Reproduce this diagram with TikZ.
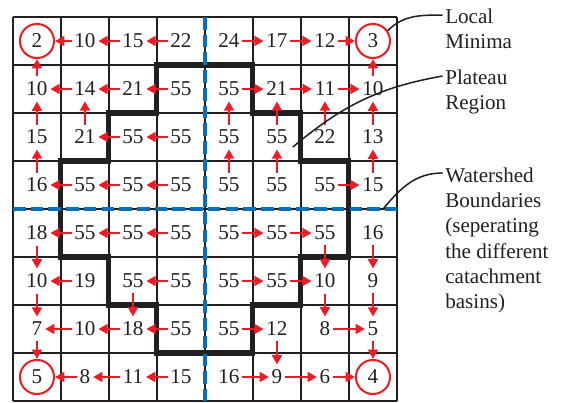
\documentclass[tikz,border=0pt]{standalone}
\usepackage{fontspec}
\setmainfont{Liberation Serif}
\usetikzlibrary{arrows.meta,positioning}
\definecolor{ink}{RGB}{35,31,32}
\definecolor{flowred}{RGB}{237,28,36}
\definecolor{shedblue}{RGB}{0,114,188}

\begin{document}
\begin{tikzpicture}[font=\fontsize{12.5}{14.9}\selectfont,text=ink,
    cellnum/.style={inner xsep=1.5pt,inner ysep=3pt},
    minring/.style={circle,draw=flowred,line width=1.2pt,minimum size=7.1mm,inner sep=0pt},
    flow/.style={flowred,line width=1.3pt,-{Triangle[length=5.5pt,width=5.8pt]}},
    plateau/.style={ink,line width=3pt},
    shed/.style={shedblue,line width=2.4pt,dash pattern=on 7.5pt off 3pt},
    leader/.style={ink,line width=0.9pt},
    tag/.style={anchor=north west,inner sep=0pt,align=left}]
  \useasboundingbox (-0.27,-8.04) rectangle (11.48,0.354);
  \draw[ink,line width=1.2pt] (0,-8) grid (8,0);
  % plateau region outline
  \draw[plateau] (3,-1) -- (5,-1) -- (5,-2) -- (6,-2) -- (6,-3) -- (7,-3) -- (7,-5) -- (6,-5) -- (6,-6) -- (5,-6) -- (5,-7)
    -- (3,-7) -- (3,-6) -- (2,-6) -- (2,-5) -- (1,-5) -- (1,-3) -- (2,-3) -- (2,-2) -- (3,-2) -- cycle;
  \draw[shed] (4,0) -- (4,-8);
  \draw[shed] (0,-4) -- (8,-4);
  % grey levels
  \foreach \vals [count=\row] in {{2,10,15,22,24,17,12,3},{10,14,21,55,55,21,11,10},{15,21,55,55,55,55,22,13},
      {16,55,55,55,55,55,55,15},{18,55,55,55,55,55,55,16},{10,19,55,55,55,55,10,9},{7,10,18,55,55,12,8,5},{5,8,11,15,16,9,6,4}}
    \foreach \v [count=\col] in \vals
      \node[cellnum] (c\row\col) at (\col-0.5,0.5-\row) {\v};
  \foreach \n in {c11,c18,c81,c88}
    \node[minring] (r\n) at (\n) {};
  % flow directions
  \foreach \a/\b in {c12/rc11,c13/c12,c14/c13,c15/c16,c16/c17,c17/rc18,c21/rc11,c28/rc18,
      c22/c21,c23/c22,c24/c23,c25/c26,c26/c27,c27/c28,
      c31/c21,c32/c22,c35/c25,c36/c26,c37/c27,c38/c28,c33/c32,c34/c33,
      c41/c31,c45/c35,c46/c36,c48/c38,c42/c41,c43/c42,c44/c43,c47/c48,
      c52/c51,c53/c52,c54/c53,c55/c56,c56/c57,c51/c61,c57/c67,c58/c68,
      c62/c61,c64/c63,c65/c66,c66/c67,c61/c71,c63/c73,c67/c77,c68/c78,
      c72/c71,c73/c72,c74/c73,c75/c76,c77/c78,c71/rc81,c76/c86,c78/rc88,
      c82/rc81,c83/c82,c84/c83,c85/c86,c86/c87,c87/rc88}
    \draw[flow] (\a) -- (\b);
  % labels
  \node[tag] (lmin) at (9.0,0.17) {Local\\Minima};
  \node[tag] (plat) at (9.0,-1.10) {Plateau\\Region};
  \node[tag] (wshed) at (9.0,-3.14) {Watershed\\Boundaries\\(seperating\\the different\\catachment\\basins)};
  \coordinate (platpt) at (5.83,-2.71);
  \coordinate (shedpt) at (7.71,-4);
  \draw[leader] (rc18.35) to[out=45,in=180] ([shift={(-0.05,-0.13)}]lmin.north west);
  \draw[leader] (platpt) to[out=40,in=190] ([shift={(-0.05,-0.13)}]plat.north west);
  \draw[leader] (shedpt) to[out=50,in=180] ([shift={(-0.05,-0.11)}]wshed.north west);
\end{tikzpicture}
\end{document}
